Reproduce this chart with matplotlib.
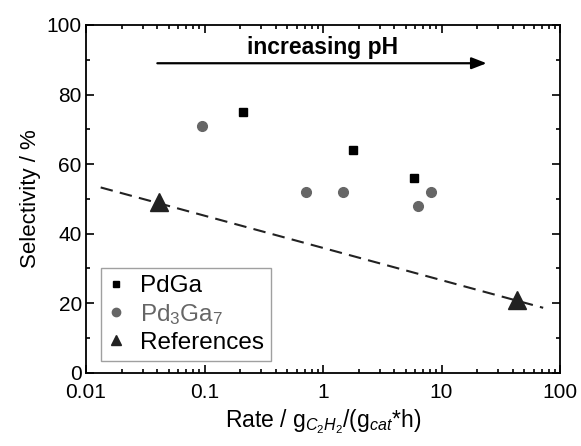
import numpy as np
import matplotlib
matplotlib.use("Agg")
import matplotlib.pyplot as plt
from matplotlib.ticker import LogLocator, FixedLocator, MultipleLocator, FuncFormatter

plt.rcParams['font.family'] = ['Liberation Sans', 'DejaVu Sans']
plt.rcParams['mathtext.fontset'] = 'custom'
plt.rcParams['mathtext.rm'] = 'Liberation Sans'
plt.rcParams['mathtext.it'] = 'Liberation Sans:italic'

# Data
pdga_rate = [0.21, 1.8, 5.9]
pdga_sel = [75, 64, 56]
pd3ga7_rate = [0.095, 0.72, 1.48, 6.3, 8.2]
pd3ga7_sel = [71, 52, 52, 48, 52]
ref_rate = [0.041, 43]
ref_sel = [49, 21]
fit_rate = [0.0133, 72]
fit_sel = [53.3, 18.7]
arrow_x = [0.04, 24]
arrow_y = 89
x_ticks = [0.01, 0.1, 1, 10, 100]
x_ticklabels = ['0.01', '0.1', '1', '10', '100']
y_ticks = [0, 20, 40, 60, 80, 100]

fig = plt.figure(figsize=(5.81, 4.46), dpi=100)
ax = fig.add_axes([0.148, 0.164, 0.816, 0.780])

ax.plot(fit_rate, fit_sel, linestyle=(0, (6, 3.5)), color='#222222', lw=1.5, zorder=2)
ax.plot(pdga_rate, pdga_sel, 's', color='black', ms=5.5, label='PdGa', zorder=3)
ax.plot(pd3ga7_rate, pd3ga7_sel, 'o', color='#666666', ms=7, label='Pd$_3$Ga$_7$', zorder=3)
ax.plot(ref_rate, ref_sel, '^', color='#222222', ms=13, label='References', zorder=3)

ax.annotate('', xy=(arrow_x[1], arrow_y), xytext=(arrow_x[0], arrow_y),
            arrowprops=dict(arrowstyle='-|>,head_length=0.9,head_width=0.35', color='black', lw=1.6,
                            shrinkA=0, shrinkB=0))
ax.text(1.0, 93.5, 'increasing pH', ha='center', va='center', fontsize=16.5, fontweight='bold')

ax.set_xscale('log')
ax.set_xlim(0.01, 100)
ax.set_ylim(0, 100)
ax.xaxis.set_major_locator(FixedLocator(x_ticks))
ax.xaxis.set_major_formatter(FuncFormatter(lambda v, p: x_ticklabels[x_ticks.index(v)] if v in x_ticks else ''))
ax.xaxis.set_minor_locator(LogLocator(base=10, subs=np.arange(2, 10), numticks=20))
ax.yaxis.set_major_locator(FixedLocator(y_ticks))
ax.yaxis.set_minor_locator(MultipleLocator(10))

ax.tick_params(which='both', direction='in', top=True, right=True, labelsize=15, width=1.2)
ax.tick_params(which='major', length=6)
ax.tick_params(which='minor', length=3)
ax.tick_params(axis='x', pad=7)
ax.tick_params(axis='y', pad=3)
for s in ax.spines.values():
    s.set_linewidth(1.3)

ax.set_xlabel('Rate / g$_{C_2H_2}$/(g$_{cat}$*h)', fontsize=16.5, labelpad=4)
ax.set_ylabel('Selectivity / %', fontsize=16, labelpad=4)

leg = ax.legend(loc='lower left', bbox_to_anchor=(0.022, 0.02), fontsize=17.5,
                frameon=True, fancybox=False, edgecolor='#888888', handlelength=0.6,
                handletextpad=0.7, borderpad=0.3, labelspacing=0.2, borderaxespad=0.2)
leg.get_frame().set_linewidth(1.0)
leg.get_texts()[1].set_color('#666666')
for h, s in zip(leg.legend_handles, [5, 6, 7]):
    h.set_markersize(s)

fig.savefig('out.png', dpi=100)
